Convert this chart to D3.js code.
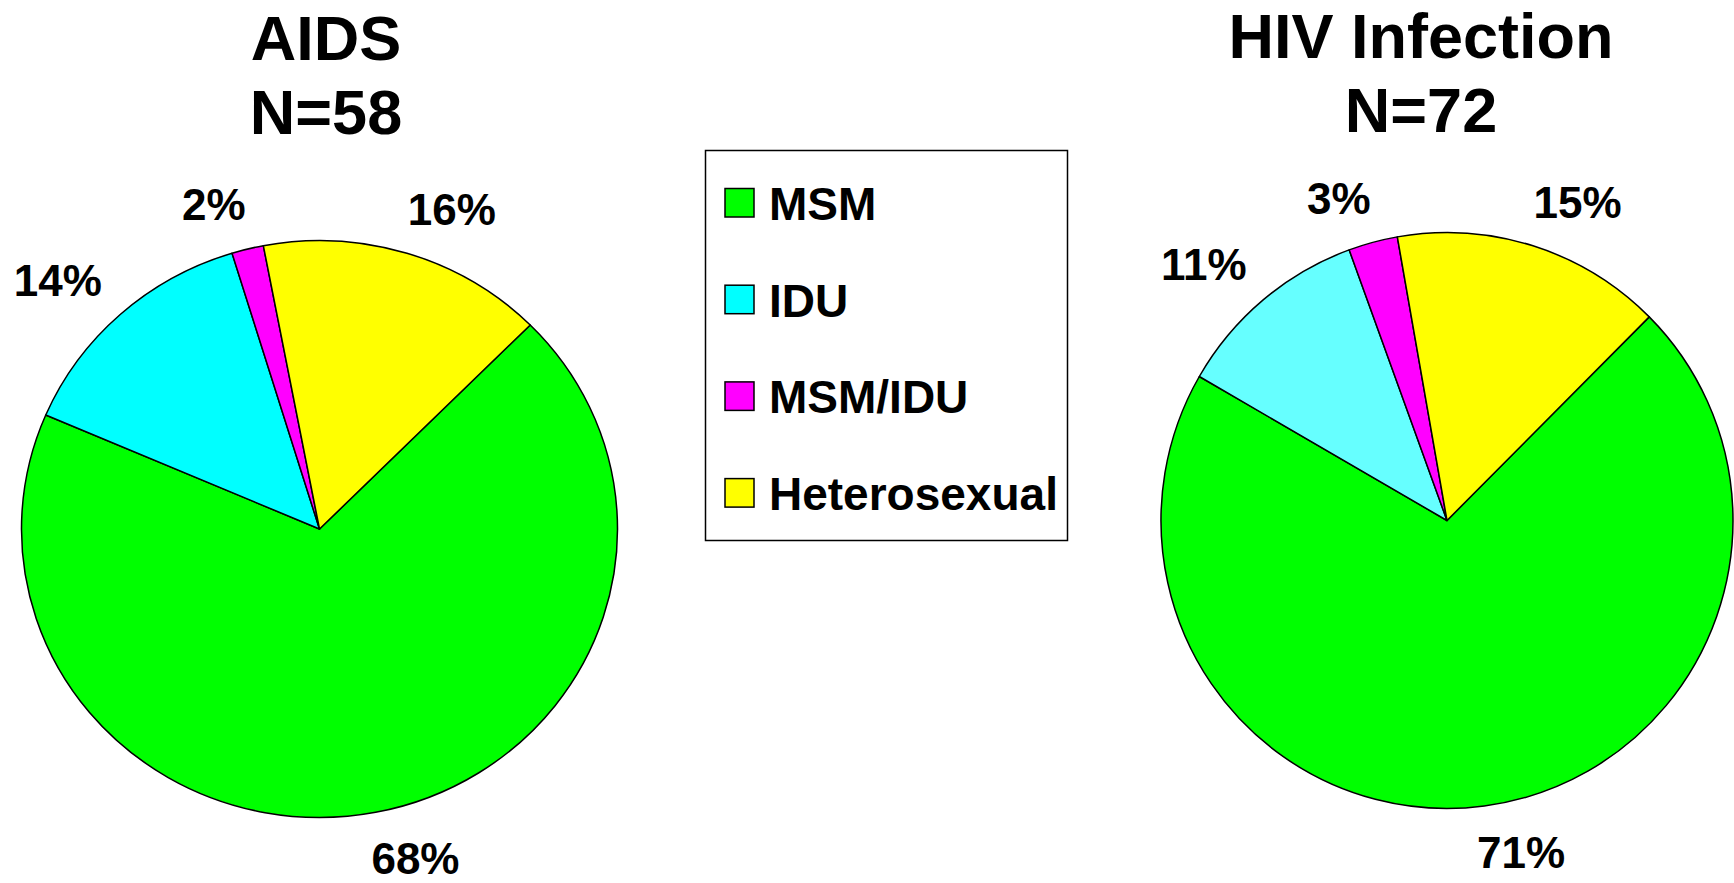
<!DOCTYPE html>
<html>
<head>
<meta charset="utf-8">
<script src="https://cdn.jsdelivr.net/npm/d3@7"></script>
<style>
body { margin: 0; background: #fff; }
text { font-family: "Liberation Sans", Arial, sans-serif; font-weight: bold; fill: #000; }
</style>
</head>
<body>
<svg id="chart"></svg>
<script>
// data (slice sizes as case counts, labels as printed)
var categories = ["MSM", "IDU", "MSM/IDU", "Heterosexual"];
var aidsCounts = [40, 8, 1, 9];
var aidsLabels = ["68%", "14%", "2%", "16%"];
var hivCounts = [51, 8, 2, 11];
var hivLabels = ["71%", "11%", "3%", "15%"];
var aidsTitle = ["AIDS", "N=58"];
var hivTitle = ["HIV Infection", "N=72"];
var legendColors = ["#00ff00", "#00ffff", "#ff00ff", "#ffff00"];
var hivColors = ["#00ff00", "#66ffff", "#ff00ff", "#ffff00"];

var w = 1734;
var h = 883;
var svg = d3.select("#chart")
    .attr("width", w)
    .attr("height", h);

var start = Math.PI / 4;
var pie = d3.pie()
    .sort(null)
    .value(d => d)
    .startAngle(start)
    .endAngle(start + Math.PI * 2);

//draw one elliptical pie with its title and outside labels
function drawPie(cfg) {
    var color = d3.scaleOrdinal().domain(categories).range(cfg.colors);
    var data = cfg.counts.map((c, i) => ({ cat: categories[i], count: c, label: cfg.labels[i] }));
    var arcs = pie(data.map(d => d.count));
    arcs.forEach((a, i) => a.data = data[i]);

    var arc = d3.arc().innerRadius(0).outerRadius(cfg.ry);
    var g = svg.append("g")
        .attr("transform", `translate(${cfg.cx},${cfg.cy}) scale(${cfg.rx / cfg.ry},1)`);
    g.selectAll("path")
        .data(arcs)
        .enter()
        .append("path")
        .attr("d", arc)
        .attr("fill", d => color(d.data.cat))
        .attr("stroke", "#000")
        .attr("stroke-width", 1.5)
        .attr("stroke-linejoin", "round")
        .attr("vector-effect", "non-scaling-stroke");

    //% labels outside the rim
    var k = 1.16;
    arcs.forEach(d => {
        var mid = (d.startAngle + d.endAngle) / 2;
        var x = cfg.cx + cfg.rx * k * Math.sin(mid);
        var y = cfg.cy - cfg.ry * k * Math.cos(mid);
        var t = svg.append("text")
            .attr("text-anchor", "middle")
            .attr("font-size", 44)
            .attr("y", y)
            .attr("dy", "0.36em")
            .text(d.data.label);
        var tw = t.node().getComputedTextLength();
        t.attr("x", x + Math.sign(Math.sin(mid)) * 0.7 * tw / 2);
    });

    //title
    svg.append("text")
        .attr("text-anchor", "middle")
        .attr("font-size", 63)
        .attr("x", cfg.tx)
        .attr("y", cfg.ty)
        .text(cfg.title[0]);
    svg.append("text")
        .attr("text-anchor", "middle")
        .attr("font-size", 63)
        .attr("x", cfg.tx)
        .attr("y", cfg.ty + 74)
        .text(cfg.title[1]);
}

drawPie({ counts: aidsCounts, labels: aidsLabels, colors: legendColors, title: aidsTitle,
    cx: 319.5, cy: 529, rx: 298, ry: 288.5, tx: 326, ty: 60 });
drawPie({ counts: hivCounts, labels: hivLabels, colors: hivColors, title: hivTitle,
    cx: 1447, cy: 520.5, rx: 286, ry: 288, tx: 1421, ty: 58 });

//legend
var lg = svg.append("g");
lg.append("rect")
    .attr("x", 705.5)
    .attr("y", 150.5)
    .attr("width", 362)
    .attr("height", 390)
    .attr("fill", "#fff")
    .attr("stroke", "#000")
    .attr("stroke-width", 1.5);
var step = 96.7;
var items = lg.selectAll("g.item")
    .data(categories)
    .enter()
    .append("g")
    .attr("class", "item")
    .attr("transform", (d, i) => `translate(0,${i * step})`);
items.append("rect")
    .attr("x", 725)
    .attr("y", 188.5)
    .attr("width", 29)
    .attr("height", 28.5)
    .attr("fill", (d, i) => legendColors[i])
    .attr("stroke", "#000")
    .attr("stroke-width", 1.5);
items.append("text")
    .attr("x", 769)
    .attr("y", 220)
    .attr("font-size", 46)
    .text(d => d);
</script>
</body>
</html>
